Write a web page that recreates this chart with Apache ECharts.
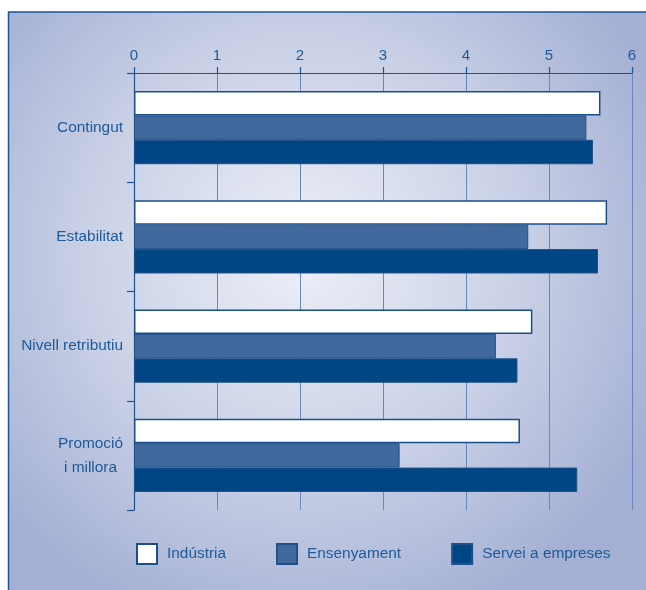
<!DOCTYPE html>
<html>
<head>
<meta charset="utf-8">
<script src="https://cdn.jsdelivr.net/npm/echarts@6/dist/echarts.min.js"></script>
<style>
html,body{margin:0;padding:0;background:#fff;}
#c{width:646px;height:590px;}
</style>
</head>
<body>
<div id="c"></div>
<script>
const categories = ['Contingut', 'Estabilitat', 'Nivell retributiu', 'Promoció\ni millora'];
const seriesNames = ['Indústria', 'Ensenyament', 'Servei a empreses'];
const industria = [5.62, 5.70, 4.80, 4.65];
const ensenyament = [5.45, 4.75, 4.36, 3.20];
const serveis = [5.53, 5.59, 4.62, 5.34];
const xTicks = [0, 1, 2, 3, 4, 5, 6];

const txt = '#1d5a99';
const chart = echarts.init(document.getElementById('c'), null, {renderer: 'canvas'});
chart.setOption({
  backgroundColor: '#ffffff',
  animation: false,
  graphic: [{
    type: 'rect', silent: true, z: -100,
    shape: {x: 8.5, y: 12, width: 700, height: 640},
    style: {
      fill: new echarts.graphic.RadialGradient(0.42, 0.38, 0.62, [
        {offset: 0, color: '#eef0f8'},
        {offset: 0.55, color: '#c9d0e6'},
        {offset: 1, color: '#a3afd3'}
      ]),
      stroke: '#1a5596', lineWidth: 1.5
    }
  }],
  textStyle: {fontFamily: 'Liberation Sans, Arial, sans-serif'},
  grid: {left: 134, right: 14, top: 73, bottom: 80, containLabel: false},
  legend: {
    data: seriesNames,
    bottom: 20, left: 131,
    itemWidth: 20, itemHeight: 20, itemGap: 50,
    icon: 'rect',
    textStyle: {color: txt, fontSize: 15.4, padding: [0, 0, 0, 5]}
  },
  xAxis: {
    type: 'value', position: 'top', min: 0, max: 6, interval: 1,
    axisLine: {show: true, lineStyle: {color: '#1a5596', width: 1.2}},
    axisTick: {show: true, length: 6, inside: false, lineStyle: {color: '#1a5596', width: 1.2}},
    axisLabel: {color: txt, fontSize: 15, margin: 10},
    splitLine: {show: true, lineStyle: {color: '#6a86bb', width: 1}}
  },
  yAxis: {
    type: 'category', data: categories, inverse: true,
    axisLine: {show: true, lineStyle: {color: '#1a5596', width: 1.2}},
    axisTick: {show: true, length: 7, lineStyle: {color: '#1a5596', width: 1.2}},
    axisLabel: {
      color: txt, fontSize: 15.4, margin: 11, lineHeight: 24,
      formatter: function (v) { return v.split('\n').map(s => '{c|' + s + '}').join('\n'); },
      rich: {c: {align: 'center', color: txt, fontSize: 15.4, lineHeight: 24}}
    },
    splitLine: {show: false}
  },
  series: [
    {name: seriesNames[0], type: 'bar', data: industria, barGap: '0%', barCategoryGap: '33%',
     itemStyle: {color: '#ffffff', borderColor: '#1a4f8a', borderWidth: 1.5}},
    {name: seriesNames[1], type: 'bar', data: ensenyament, barGap: '0%', barCategoryGap: '33%',
     itemStyle: {color: '#41699e', borderColor: '#1f508a', borderWidth: 1}},
    {name: seriesNames[2], type: 'bar', data: serveis, barGap: '0%', barCategoryGap: '33%',
     itemStyle: {color: '#004685', borderColor: '#1f508a', borderWidth: 1}}
  ]
});
</script>
</body>
</html>
